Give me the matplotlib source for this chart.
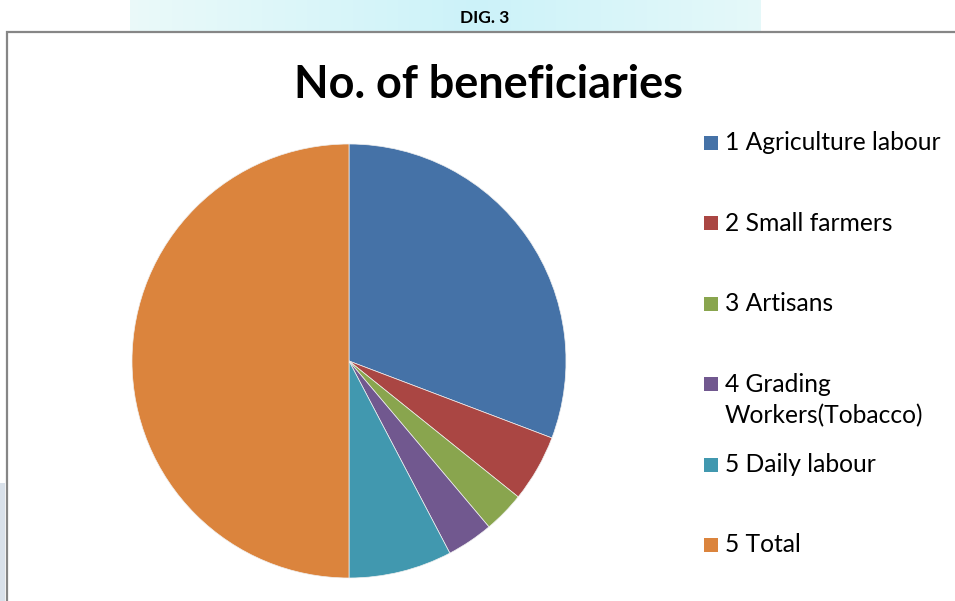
import matplotlib
matplotlib.use("Agg")
import matplotlib.pyplot as plt
import numpy as np
from matplotlib.patches import Rectangle

# beneficiaries by category
categories = ["1 Agriculture labour", "2 Small farmers", "3 Artisans",
              "4 Grading\nWorkers(Tobacco)", "5 Daily labour", "5 Total"]
beneficiaries = [400, 65, 40, 45, 100, 650]
colors = ["#4572A7", "#AA4643", "#89A54E", "#71588F", "#4198AF", "#DB843D"]

W, H = 955, 601
fig = plt.figure(figsize=(W / 100, H / 100), dpi=100)
fig.patch.set_facecolor("white")

# light header strip behind the figure caption
band = fig.add_axes([130 / W, 1 - 31 / H, 630 / W, 31 / H])
xs = np.linspace(0, 1, 300)
r = 0.80 + 0.12 * np.abs(xs - 0.55) / 0.55
g = 0.95 + 0.03 * np.abs(xs - 0.55) / 0.55
b = np.full_like(xs, 0.98)
band.imshow(np.dstack([r, g, b]).repeat(10, axis=0), aspect="auto",
            extent=[0, 1, 0, 1])
band.axis("off")

fig.text(485 / W, 1 - 18 / H, "DIG. 3", ha="center", va="center",
         fontsize=12.5, fontweight="bold", family="Lato")

# faint strip at the lower left edge
fig.patches.append(Rectangle((0, 0), 5 / W, 118 / H, transform=fig.transFigure,
                             facecolor="#d9e1ea", edgecolor="none"))

# chart frame
fig.patches.append(Rectangle((7 / W, -0.02), 1.0, 1 - 32 / H + 0.02,
                             transform=fig.transFigure, facecolor="none",
                             edgecolor="#868686", linewidth=1.6))

fig.text(488 / W, 1 - 85 / H, "No. of beneficiaries", ha="center", va="center",
         fontsize=32.4, fontweight="bold", family="Lato")

ax = fig.add_axes([132 / W, 23 / H, 434 / W, 434 / H])
wedges, _ = ax.pie(beneficiaries, colors=colors, startangle=90, counterclock=False,
                   radius=1, wedgeprops=dict(linewidth=0.5, edgecolor="#f0f0f0"))
ax.set_xlim(-1, 1)
ax.set_ylim(-1, 1)
ax.set_aspect("equal")
ax.axis("off")

# legend: evenly spaced slots, wrapped labels run on below their slot
for i, (label, color) in enumerate(zip(categories, colors)):
    y = 143 + i * 80.4
    fig.patches.append(Rectangle((704 / W, 1 - (y + 7) / H), 14 / W, 14 / H,
                                 transform=fig.transFigure, facecolor=color,
                                 edgecolor="none"))
    for j, line in enumerate(label.split("\n")):
        fig.text(725 / W, 1 - (y + j * 31) / H, line, ha="left", va="center",
                 fontsize=17.7, family="Lato", color="black")

fig.savefig("out.png", dpi=100)
